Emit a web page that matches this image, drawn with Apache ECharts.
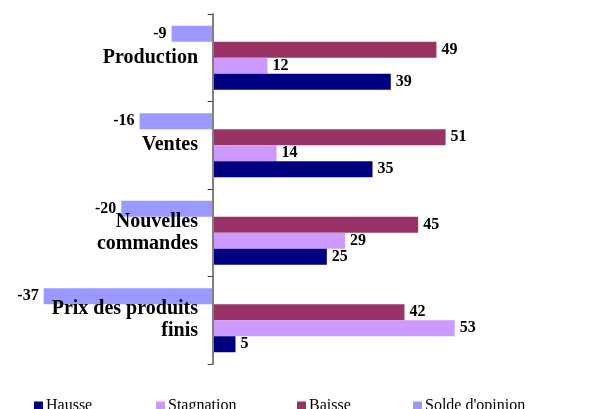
<!DOCTYPE html>
<html>
<head>
<meta charset="utf-8">
<script src="https://cdn.jsdelivr.net/npm/echarts@6/dist/echarts.min.js"></script>
<style>
  html, body { margin: 0; padding: 0; background: #fff; }
  #chart { width: 598px; height: 409px; }
</style>
</head>
<body>
<div id="chart"></div>
<script>
// categories bottom -> top (ECharts draws first category at the bottom)
const categories = ['Prix des produits\nfinis', 'Nouvelles\ncommandes', 'Ventes', 'Production']
const hausse = [5, 25, 35, 39]
const stagnation = [53, 29, 14, 12]
const baisse = [42, 45, 51, 49]
const solde = [-37, -20, -16, -9]

const serif = '"Liberation Serif", "DejaVu Serif", serif'
const colors = {
  Hausse: '#000080',
  Stagnation: '#CC99FF',
  Baisse: '#993366',
  "Solde d'opinion": '#9999FF'
}

const valueLabel = {
  show: true,
  position: 'right',
  distance: 5,
  color: '#000',
  fontFamily: serif,
  fontWeight: 'bold',
  fontSize: 16
}

function makeSeries(name, data) {
  return {
    name: name,
    type: 'bar',
    data: data,
    barWidth: 16,
    barGap: '0%',
    barCategoryGap: '27%',
    itemStyle: { color: colors[name] },
    label: valueLabel
  }
}

const chart = echarts.init(document.getElementById('chart'))

const legendPos = [
  ['Hausse', 34],
  ['Stagnation', 156],
  ['Baisse', 297],
  ["Solde d'opinion", 413]
]

chart.setOption({
  animation: false,
  grid: { left: 30, width: 548, top: 14, height: 350, outerBoundsMode: 'none' },
  legend: legendPos.map(function(p) {
    return {
      data: [p[0]],
      left: p[1],
      top: 398,
      itemWidth: 9,
      itemHeight: 9,
      itemGap: 0,
      padding: 0,
      icon: 'rect',
      textStyle: { fontFamily: serif, fontSize: 16, color: '#000', padding: [0, 0, 0, -2] }
    }
  }),
  xAxis: {
    type: 'value',
    min: -40,
    max: 80,
    show: false
  },
  yAxis: {
    type: 'category',
    data: categories,
    z: 10, // category names are drawn over the bars
    axisLine: { lineStyle: { color: '#808080', width: 2 } },
    axisTick: { show: true, length: 5, lineStyle: { color: '#404040', width: 1 } },
    axisLabel: {
      // labels are anchored at the grid edge, not at the zero line: pull them in
      margin: -168,
      fontFamily: serif,
      fontWeight: 'bold',
      fontSize: 20,
      lineHeight: 22,
      color: '#000'
    }
  },
  // top-to-bottom order inside a group: Solde, Baisse, Stagnation, Hausse
  series: [
    Object.assign(makeSeries("Solde d'opinion", solde), {
      label: Object.assign({}, valueLabel, { position: 'left' })
    }),
    makeSeries('Baisse', baisse),
    makeSeries('Stagnation', stagnation),
    makeSeries('Hausse', hausse)
  ]
})
</script>
</body>
</html>
